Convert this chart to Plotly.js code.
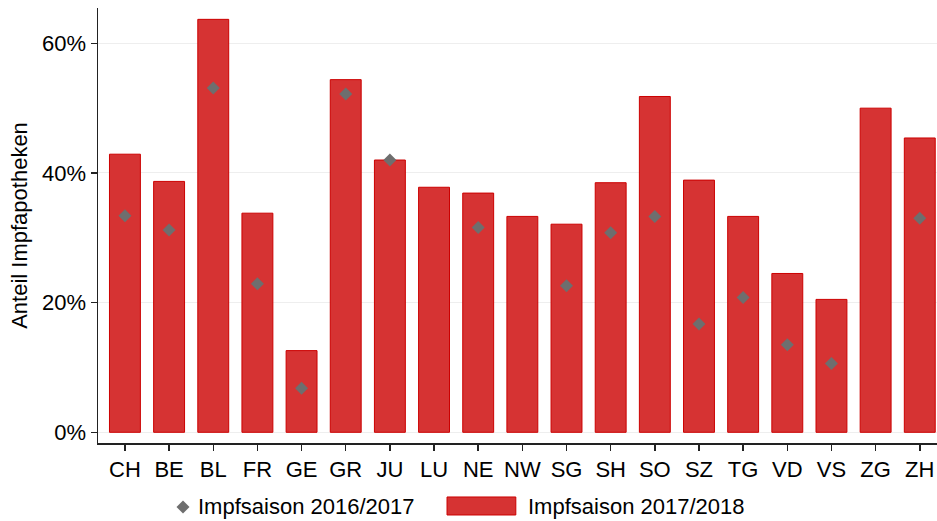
<!DOCTYPE html>
<html>
<head>
<meta charset="utf-8">
<script src="https://cdn.plot.ly/plotly-3.0.1.min.js"></script>
<style>html,body{margin:0;padding:0;background:#fff;}#chart{width:937px;height:521px;}</style>
</head>
<body>
<div id="chart"></div>
<script>
const cantons = ['CH','BE','BL','FR','GE','GR','JU','LU','NE','NW','SG','SH','SO','SZ','TG','VD','VS','ZG','ZH'];
const season1718 = [42.9,38.7,63.7,33.8,12.6,54.4,42.0,37.8,36.9,33.3,32.1,38.5,51.8,38.9,33.3,24.5,20.5,50.0,45.4];
const season1617 = [33.4,31.2,53.1,22.9,6.8,52.2,42.0,null,31.6,null,22.6,30.8,33.3,16.7,20.8,13.5,10.6,null,33.0];
const seriesNames = ['Impfsaison 2016/2017','Impfsaison 2017/2018'];
const yTicks = [0,20,40,60];
const yTickText = ['0%','20%','40%','60%'];

const barFill = 'rgb(214,51,51)';
const barLine = 'rgb(204,0,0)';
const diamondColor = 'rgb(110,110,110)';
const font = 'Liberation Sans, Arial, sans-serif';

const traces = [
  {
    type: 'bar', x: cantons, y: season1718, name: seriesNames[1],
    marker: {color: barFill, line: {color: barLine, width: 1}},
    width: 0.7, showlegend: false, hoverinfo: 'x+y'
  },
  {
    type: 'scatter', mode: 'markers', x: cantons, y: season1617, name: seriesNames[0],
    marker: {symbol: 'diamond', size: 10, color: diamondColor},
    showlegend: false, hoverinfo: 'x+y'
  }
];

const layout = {
  width: 937, height: 521,
  margin: {l: 98, r: 0, t: 8, b: 78},
  paper_bgcolor: '#fff', plot_bgcolor: '#fff',
  font: {family: font, size: 22, color: '#000'},
  showlegend: false,
  xaxis: {
    type: 'category', range: [-0.61, 18.39],
    showline: true, linecolor: '#222', linewidth: 1.5,
    ticks: 'outside', ticklen: 6, tickcolor: '#222', tickwidth: 1.5,
    showgrid: false, zeroline: false,
    tickfont: {family: font, size: 22, color: '#000'}
  },
  yaxis: {
    range: [-1.65, 65.45],
    tickmode: 'array', tickvals: yTicks, ticktext: yTickText,
    showline: true, linecolor: '#222', linewidth: 1.5,
    ticks: 'outside', ticklen: 6, tickcolor: '#222', tickwidth: 1.5,
    showgrid: true, gridcolor: '#eeeeee', gridwidth: 1,
    zeroline: false,
    tickfont: {family: font, size: 22, color: '#000'},
    title: {text: 'Anteil Impfapotheken', font: {family: font, size: 22, color: '#000'}, standoff: 8}
  },
  shapes: [
    {type: 'path', xref: 'paper', yref: 'paper', xsizemode: 'pixel', ysizemode: 'pixel',
     xanchor: 0.1013, yanchor: -0.1471,
     path: 'M -6.5 0 L 0 6.5 L 6.5 0 L 0 -6.5 Z',
     fillcolor: diamondColor, line: {width: 0}},
    {type: 'rect', xref: 'paper', yref: 'paper',
     x0: 0.416, x1: 0.498, y0: -0.1655, y1: -0.1241,
     fillcolor: barFill, line: {color: barLine, width: 1}}
  ],
  annotations: [
    {xref: 'paper', yref: 'paper', x: 0.117, y: -0.1471, xanchor: 'left', yanchor: 'middle',
     text: seriesNames[0], showarrow: false, font: {family: font, size: 22, color: '#000'}},
    {xref: 'paper', yref: 'paper', x: 0.5103, y: -0.1471, xanchor: 'left', yanchor: 'middle',
     text: seriesNames[1], showarrow: false, font: {family: font, size: 22, color: '#000'}}
  ]
};

Plotly.newPlot('chart', traces, layout, {displayModeBar: false, staticPlot: true});
</script>
</body>
</html>
